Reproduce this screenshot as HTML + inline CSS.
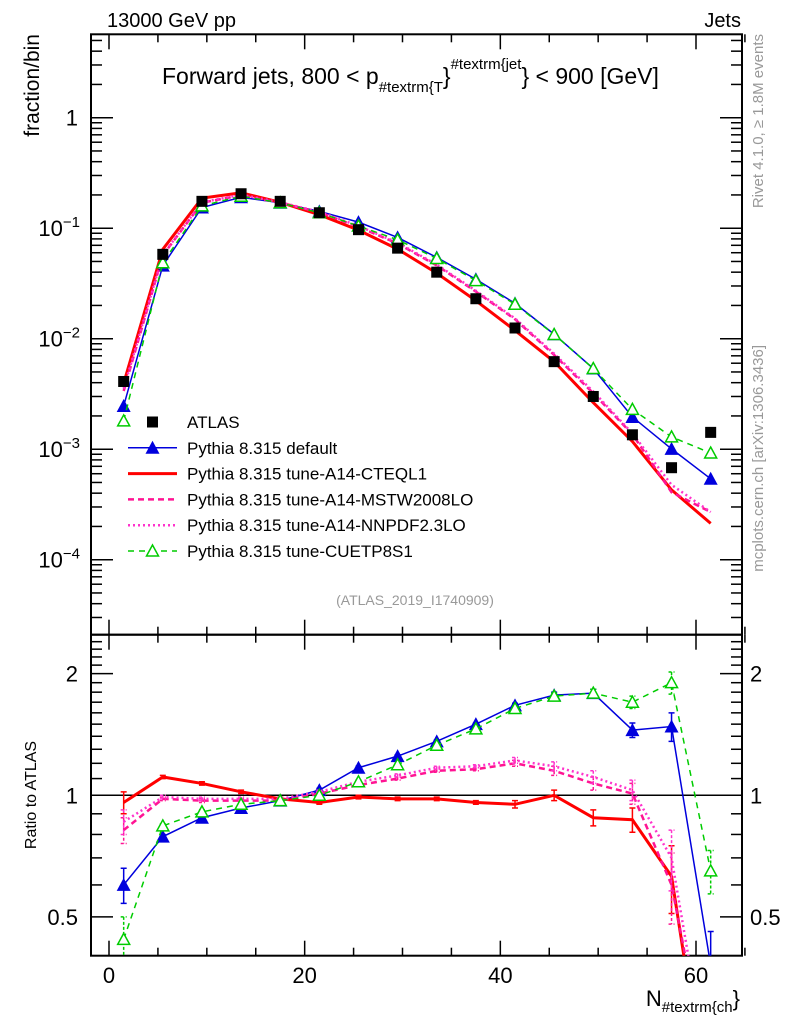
<!DOCTYPE html>
<html><head><meta charset="utf-8"><style>
html,body{margin:0;background:#fff;overflow:hidden;width:786px;height:1024px}
svg{display:block;font-family:"Liberation Sans",sans-serif}
</style></head><body>
<svg id="c" width="786" height="1024" viewBox="0 0 786 1024" xmlns="http://www.w3.org/2000/svg" style="overflow:hidden">
<g id="main"></g>
</svg>
<script>
const bins=[1.5,5.5,9.5,13.5,17.5,21.5,25.5,29.5,33.5,37.5,41.5,45.5,49.5,53.5,57.5,61.5];
const atlas=[4.1e-3,0.058,0.175,0.205,0.175,0.138,0.097,0.066,0.040,0.023,0.0125,0.0062,0.0030,0.00135,0.00068,0.00142];
const rDefault=[0.60,0.79,0.88,0.93,0.97,1.03,1.17,1.25,1.36,1.50,1.67,1.77,1.79,1.45,1.48,0.38];
const rCTEQ=[0.96,1.11,1.07,1.02,0.98,0.96,0.99,0.98,0.98,0.96,0.95,1.00,0.88,0.87,0.63,0.15];
const rMSTW=[0.82,0.98,0.97,0.97,0.97,1.01,1.06,1.10,1.15,1.16,1.20,1.15,1.07,1.01,0.60,0.19];
const rNNPDF=[0.86,0.99,0.98,0.98,0.98,1.02,1.08,1.12,1.17,1.18,1.22,1.18,1.11,1.03,0.70,0.19];
const rCUET=[0.44,0.84,0.91,0.95,0.97,1.00,1.08,1.19,1.33,1.46,1.64,1.76,1.79,1.70,1.90,0.65];
const rErr=[0.06,0.01,0.01,0.01,0.01,0.01,0.01,0.01,0.01,0.01,0.02,0.03,0.04,0.06,0.12,0.08];
const xTicks=[0,20,40,60];
const yTicks=[0,-1,-2,-3,-4];
const rTicks=[2,1,0.5];

const NS="http://www.w3.org/2000/svg";
const g=document.getElementById('main');
const L=91,R=742,T=34.3,MB=634.7,RB=955.7;
const X=v=>109+(v)*(696-109)/60;
const Y=v=>117.7-Math.log10(v)*110.5;
const RY=v=>795.3-Math.log10(v)*404;
function el(t,a,p){const e=document.createElementNS(NS,t);for(const k in a)e.setAttribute(k,a[k]);(p||g).appendChild(e);return e;}
function txt(s,a){const e=el('text',a);e.textContent=s;return e;}

let f=el('rect',{x:L,y:T,width:R-L,height:MB-T,fill:'none',stroke:'#000','stroke-width':2});

f=el('rect',{x:L,y:MB,width:R-L,height:RB-MB,fill:'none',stroke:'#000','stroke-width':2});


for(let v=0;v<=65;v+=5){const maj=v%20===0;const len=maj?15:8;
 [[T,1],[MB,-1],[MB,1],[RB,-1]].forEach(([y0,d])=>{const t=el('line',{x1:X(v),x2:X(v),y1:y0,y2:y0+d*len,stroke:'#000','stroke-width':1.5});});}
xTicks.forEach(v=>{const t=txt(String(v),{x:X(v),y:983,'font-size':22,'text-anchor':'middle'});});

for(let e=-5;e<=0;e++){for(let m=1;m<10;m++){const v=m*Math.pow(10,e);const y=Y(v);if(y<T||y>MB)continue;const len=m===1?22:11;
 [[L,1],[R,-1]].forEach(([x0,d])=>{const t=el('line',{x1:x0,x2:x0+d*len,y1:y,y2:y,stroke:'#000','stroke-width':1.5});});}}
yTicks.forEach(e=>{const v=Math.pow(10,e);const t=el('text',{x:e===0?78:80,y:Y(v)+8,'font-size':22,'text-anchor':'end'});
 
 if(e===0)t.textContent='1';else{t.textContent='10';const s=el('tspan',{dy:-9,'font-size':15},t);s.textContent='\u2212'+(-e);}});

for(let v=0.4;v<=2.6;v+=0.1){const y=RY(v);if(y<MB||y>RB)continue;const maj=[0.5,1,2].some(q=>Math.abs(q-v)<1e-6);const len=maj?22:11;
 [[L,1],[R,-1]].forEach(([x0,d])=>{const t=el('line',{x1:x0,x2:x0+d*len,y1:y,y2:y,stroke:'#000','stroke-width':1.5});});}
rTicks.forEach(v=>{[[78,'end'],[750,'start']].forEach(([x,a])=>{const t=txt(String(v),{x:x,y:RY(v)+8,'font-size':22,'text-anchor':a});});});
let ln=el('line',{x1:L,x2:R,y1:RY(1),y2:RY(1),stroke:'#000','stroke-width':1.5});


const defs=el('defs',{});
const c1=el('clipPath',{id:'cm'},defs);el('rect',{x:L,y:T,width:R-L,height:MB-T},c1);
const c2=el('clipPath',{id:'cr'},defs);el('rect',{x:L,y:MB,width:R-L,height:RB-MB},c2);
const gm=el('g',{'clip-path':'url(#cm)'});
const gr=el('g',{'clip-path':'url(#cr)'});

const series=[
 {name:'default',r:rDefault,col:'#0000dd',w:1.5,dash:'',mk:'tri'},
 {name:'cteql1',r:rCTEQ,col:'#ff0000',w:3,dash:'',mk:'none'},
 {name:'mstw',r:rMSTW,col:'#ff1493',w:2.5,dash:'6,4',mk:'none'},
 {name:'nnpdf',r:rNNPDF,col:'#ff33cc',w:2.5,dash:'2,3',mk:'none'},
 {name:'cuetp8s1',r:rCUET,col:'#00cc00',w:1.5,dash:'6,5',mk:'otri'}];
function marker(p,x,y,s,name){
 if(s.mk==='tri'){const m=el('path',{d:`M${x},${y-7}L${x+7},${y+6}L${x-7},${y+6}Z`,fill:s.col},p);}
 else if(s.mk==='otri'){const m=el('path',{d:`M${x},${y-6}L${x+6},${y+5}L${x-6},${y+5}Z`,fill:'#fff',stroke:s.col,'stroke-width':1.5},p);}
}
series.forEach(s=>{
 const vals=s.r.map((r,i)=>r*atlas[i]);
 const pm=el('polyline',{points:bins.map((b,i)=>X(b)+','+Y(vals[i])).join(' '),fill:'none',stroke:s.col,'stroke-width':s.w,'stroke-dasharray':s.dash},gm);
 
 bins.forEach((b,i)=>marker(gm,X(b),Y(vals[i]),s,s.name+'-point'));
 const pr=el('polyline',{points:bins.map((b,i)=>X(b)+','+RY(s.r[i])).join(' '),fill:'none',stroke:s.col,'stroke-width':s.w,'stroke-dasharray':s.dash},gr);
 
 bins.forEach((b,i)=>{const x=X(b),y1=RY(s.r[i]+rErr[i]),y2=RY(Math.max(0.05,s.r[i]-rErr[i]));
  const eb=el('path',{d:`M${x},${y1}V${y2}M${x-3},${y1}H${x+3}M${x-3},${y2}H${x+3}`,stroke:s.col,'stroke-width':1.5,fill:'none','stroke-dasharray':s.dash?'3,2':''},gr);
  
  marker(gr,x,RY(s.r[i]),s,s.name+'-ratio-point');});
});
bins.forEach((b,i)=>{const m=el('rect',{x:X(b)-5.5,y:Y(atlas[i])-5.5,width:11,height:11,fill:'#000'},gm);
 });

const leg=el('g',{});
const ents=[['ATLAS',null],['Pythia 8.315 default',series[0]],['Pythia 8.315 tune-A14-CTEQL1',series[1]],['Pythia 8.315 tune-A14-MSTW2008LO',series[2]],['Pythia 8.315 tune-A14-NNPDF2.3LO',series[3]],['Pythia 8.315 tune-CUETP8S1',series[4]]];
ents.forEach((e,i)=>{const y=422+i*25.8;
 const ge=el('g',{},leg);
 if(!e[1]){el('rect',{x:147,y:y-5.5,width:11,height:11,fill:'#000'},ge);}
 else{const s=e[1];el('line',{x1:128,x2:177,y1:y,y2:y,stroke:s.col,'stroke-width':s.w,'stroke-dasharray':s.dash},ge);marker(ge,152.5,y,s,'legend-marker');}
 const t=el('text',{x:187,y:y+6,'font-size':17},ge);t.textContent=e[0];});

function T2(s,a,n){const t=txt(s,a);return t;}
T2('13000 GeV pp',{x:107,y:27,'font-size':20},'energy-label');
T2('Jets',{x:741,y:27,'font-size':20,'text-anchor':'end'},'process-label');
const ti=el('text',{x:162,y:84,'font-size':23});
ti.innerHTML='Forward jets, 800 &lt; p<tspan dy="8" font-size="15">#textrm{T</tspan><tspan dy="-8">}</tspan><tspan dy="-15" font-size="15">#textrm{jet</tspan><tspan dy="15">} &lt; 900 [GeV]</tspan>';
T2('(ATLAS_2019_I1740909)',{x:415,y:605,'font-size':14,fill:'#999','text-anchor':'middle'},'analysis-id');
T2('fraction/bin',{x:0,y:0,'font-size':21,'text-anchor':'end',transform:'translate(39,34) rotate(-90)'},'y-axis-title');
T2('Ratio to ATLAS',{x:0,y:0,'font-size':16,'text-anchor':'middle',transform:'translate(36,795) rotate(-90)'},'ratio-axis-title');
T2('Rivet 4.1.0, \u2265 1.8M events',{x:0,y:0,'font-size':15,fill:'#999','text-anchor':'end',transform:'translate(763,34) rotate(-90)'},'rivet-label');
T2('mcplots.cern.ch [arXiv:1306.3436]',{x:0,y:0,'font-size':15,fill:'#999','text-anchor':'end',transform:'translate(763,345) rotate(-90)'},'mcplots-label');
const xt=el('text',{x:740,y:1006,'font-size':22,'text-anchor':'end'});
xt.innerHTML='N<tspan dy="6" font-size="15">#textrm{ch</tspan><tspan dy="-6">}</tspan>';
</script>
</body></html>
